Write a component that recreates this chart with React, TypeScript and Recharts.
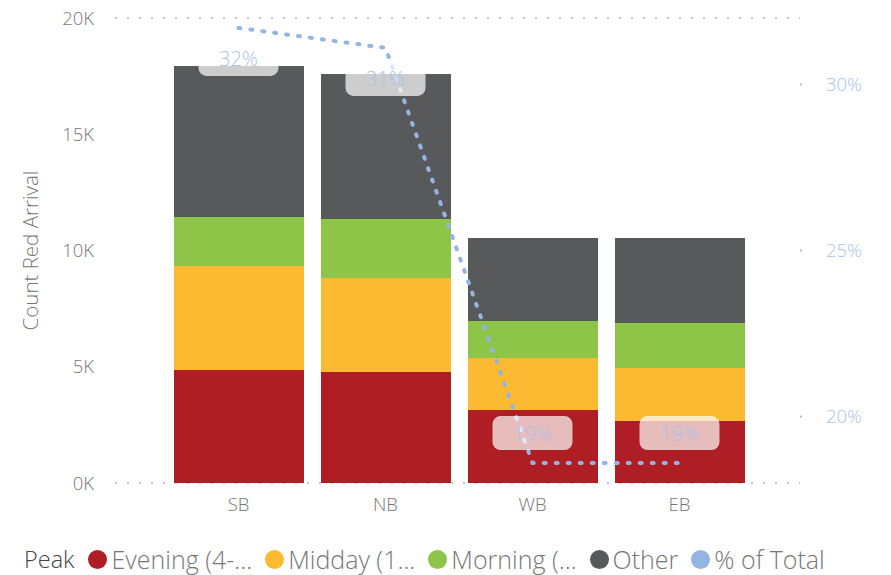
import { Bar, CartesianGrid, ComposedChart, LabelList, Line, XAxis, YAxis } from "recharts";

const DIRECTIONS = ["SB", "NB", "WB", "EB"];
const EVENING = [4860, 4770, 3140, 2670];
const MIDDAY = [4470, 4050, 2240, 2280];
const MORNING = [2110, 2530, 1590, 1930];
const OTHER = [6500, 6240, 3570, 3660];
const PCT_OF_TOTAL = [31.7, 31.1, 18.6, 18.6];

const LEFT_TICKS = [0, 5000, 10000, 15000, 20000];
const RIGHT_TICKS = [20, 25, 30];

const SERIES = [
  { key: "evening", name: "Evening (4-...", color: "#AE1E24" },
  { key: "midday", name: "Midday (1...", color: "#FCBA33" },
  { key: "morning", name: "Morning (...", color: "#8EC448" },
  { key: "other", name: "Other", color: "#58595B" },
];
const LINE_COLOR = "#93B5E1";

const data = DIRECTIONS.map((dir, i) => ({
  dir,
  evening: EVENING[i],
  midday: MIDDAY[i],
  morning: MORNING[i],
  other: OTHER[i],
  pct: PCT_OF_TOTAL[i],
}));

const FONT = "'Open Sans', 'Noto Sans', sans-serif";
const TICK = { fill: "#777", fontSize: 18.5, fontFamily: FONT, fontWeight: 300 };

// label box over the % line, semi-transparent white like Power BI
function PctLabel(props: any) {
  const { x, y, value } = props;
  const cy = y + (value > 25 ? 31 : -30);
  return (
    <g>
      <rect x={x - 40} y={cy - 17} width={80} height={34} rx={8} fill="#fff" fillOpacity={0.7} />
      <text
        x={x}
        y={cy}
        textAnchor="middle"
        dominantBaseline="central"
        fill="#A9C4E8"
        fontSize={20}
        fontFamily={FONT}
        fontWeight={300}
      >
        {Math.round(value)}%
      </text>
    </g>
  );
}

export default function App() {
  return (
    <div style={{ position: "absolute", left: 0, top: 0, width: 891, height: 575, background: "#fff" }}>
      <ComposedChart
        width={891}
        height={535}
        data={data}
        margin={{ top: 18, right: 21, bottom: 22, left: 0 }}
      >
        <CartesianGrid
          vertical={false}
          stroke="#c8c8c8"
          strokeWidth={2}
          strokeDasharray="2 10"
        />
        <XAxis
          dataKey="dir"
          axisLine={false}
          tickLine={false}
          tick={TICK}
          tickMargin={9}
          height={30}
          padding={{ left: 50, right: 47 }}
        />
        <YAxis
          yAxisId="left"
          width={115}
          domain={[0, 20000]}
          ticks={LEFT_TICKS}
          tickFormatter={(v) => `${v / 1000}K`}
          axisLine={false}
          tickLine={false}
          tickMargin={15}
          tick={TICK}
          label={{
            value: "Count Red Arrival",
            angle: -90,
            position: "insideLeft",
            offset: 31,
            style: { textAnchor: "middle", fill: "#777", fontSize: 20.5, fontFamily: FONT, fontWeight: 300 },
          }}
        />
        <YAxis
          yAxisId="right"
          orientation="right"
          width={70}
          domain={[18, 32]}
          ticks={RIGHT_TICKS}
          tickFormatter={(v) => `${v}%`}
          axisLine={false}
          tickLine={{ stroke: "#bbb", strokeWidth: 2, strokeDasharray: "0 4 2 0" }}
          tickMargin={20}
          tick={{ ...TICK, fill: "#A9C4E8" }}
        />
        {SERIES.map((s) => (
          <Bar
            key={s.key}
            yAxisId="left"
            dataKey={s.key}
            name={s.name}
            stackId="a"
            fill={s.color}
            barSize={130}
            isAnimationActive={false}
          />
        ))}
        <Line
          yAxisId="right"
          dataKey="pct"
          name="% of Total"
          type="linear"
          stroke={LINE_COLOR}
          strokeWidth={4}
          strokeDasharray="2 10"
          strokeLinecap="round"
          dot={false}
          activeDot={false}
          isAnimationActive={false}
        >
          <LabelList dataKey="pct" content={PctLabel} />
        </Line>
      </ComposedChart>
      <div
        style={{
          position: "absolute",
          left: 24,
          top: 542,
          display: "flex",
          alignItems: "center",
          fontFamily: FONT,
          fontSize: 25,
          color: "#777",
          fontWeight: 300,
          whiteSpace: "nowrap",
        }}
      >
        <span style={{ color: "#444", marginRight: 14, fontSize: 23.5 }}>Peak</span>
        {[...SERIES, { key: "pct", name: "% of Total", color: LINE_COLOR }].map((s) => (
          <span key={s.key} style={{ display: "flex", alignItems: "center", marginRight: 13 }}>
            <span
              style={{
                width: 19,
                height: 19,
                borderRadius: "50%",
                background: s.color,
                display: "inline-block",
                marginRight: 4,
              }}
            />
            {s.name}
          </span>
        ))}
      </div>
    </div>
  );
}
